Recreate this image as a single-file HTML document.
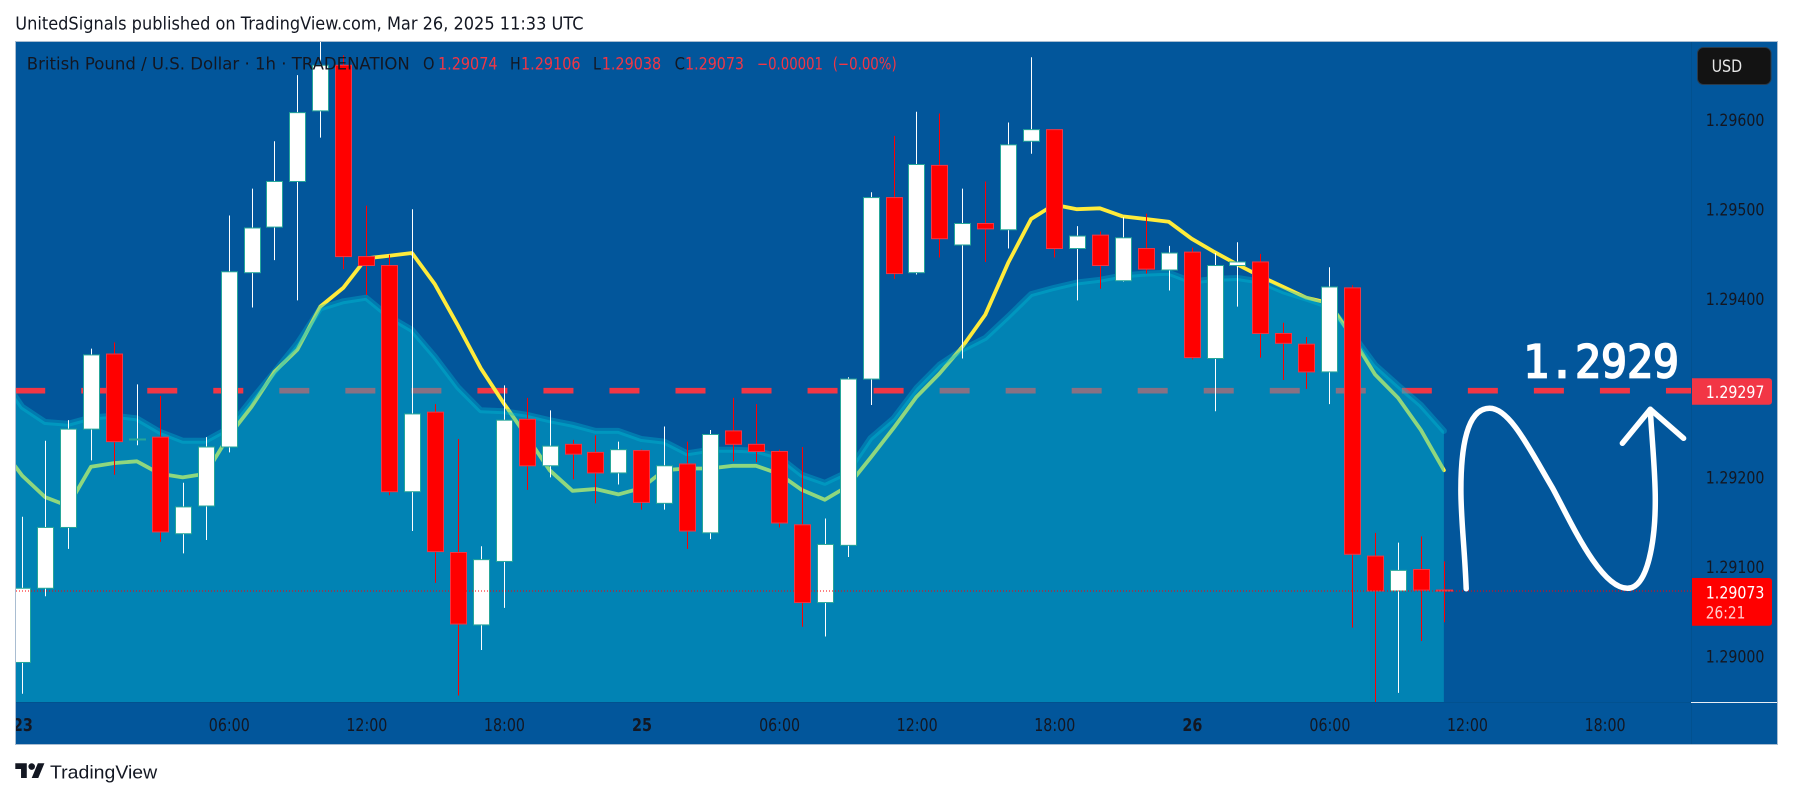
<!DOCTYPE html>
<html lang="en">
<head>
<meta charset="utf-8">
<title>GBP/USD 1h chart</title>
<style>
html,body{margin:0;padding:0;background:#fff;width:1793px;height:798px;overflow:hidden}
svg{display:block}
text{font-family:"DejaVu Sans","Liberation Sans",sans-serif}
</style>
</head>
<body>
<svg id="chart" width="1793" height="798" viewBox="0 0 1793 798" xmlns="http://www.w3.org/2000/svg">
  <defs>
    <clipPath id="plot-clip"><rect x="16" y="42" width="1675" height="660.7"/></clipPath>
    <clipPath id="chart-clip"><rect x="16" y="42" width="1761" height="702"/></clipPath>
  </defs>
  <rect x="0" y="0" width="1793" height="798" fill="#ffffff"/>
  <text x="15.3" y="29.5" font-size="17.5" fill="#131722" textLength="568.3" lengthAdjust="spacingAndGlyphs">UnitedSignals published on TradingView.com, Mar 26, 2025 11:33 UTC</text>
  <rect x="15.5" y="41.5" width="1762" height="703" fill="#02569b" stroke="#a9bdd1" stroke-width="1"/>
  <g id="under-lines" clip-path="url(#plot-clip)"></g>
  <g id="area" clip-path="url(#plot-clip)"></g>
  <g id="candles" clip-path="url(#plot-clip)"></g>
  <line id="last-line" x1="16" x2="1691" stroke="#ff0000" stroke-width="1" stroke-dasharray="1 2"/>
  <line x1="1691.5" x2="1691.5" y1="42" y2="744" stroke="#02518f" stroke-width="1"/>
  <line x1="16" x2="1691" y1="702.5" y2="702.5" stroke="#02518f" stroke-width="1"/>
  <line x1="1691" x2="1777" y1="702.5" y2="702.5" stroke="#e8eef5" stroke-width="1"/>
  <g id="price-axis"></g>
  <g id="time-axis" clip-path="url(#chart-clip)"></g>
  <text x="1523" y="377.5" font-size="45.5" fill="#ffffff" stroke="#ffffff" stroke-width="1.8" style='font-family:"DejaVu Sans Mono",monospace' textLength="156" lengthAdjust="spacingAndGlyphs">1.2929</text>
  <path fill="none" stroke="#ffffff" stroke-width="5.5" stroke-linecap="round" stroke-linejoin="round" d="M1466.2 588.7 C1464.8 550 1460.9 520 1460.9 490 C1460.9 450 1466 408.3 1489.6 408.3 C1510 408.3 1530 450 1552.7 488.3 C1570 520 1600 588.3 1627.4 588.3 C1648 588.3 1655.3 540 1655.3 500 C1655.3 470 1651.5 435 1650.3 409.3"/>
  <path fill="none" stroke="#ffffff" stroke-width="5.5" stroke-linecap="round" stroke-linejoin="round" d="M1622.4 443.3 L1650.3 409.3 L1683.6 438.3"/>
  <g font-size="16.5" fill="#131722">
    <text x="26.8" y="69.5" textLength="383" lengthAdjust="spacingAndGlyphs">British Pound / U.S. Dollar · 1h · TRADENATION</text>
    <text x="423" y="69.5" textLength="11.5" lengthAdjust="spacingAndGlyphs">O</text>
    <text x="438" y="69.5" fill="#f23645" textLength="59.5" lengthAdjust="spacingAndGlyphs">1.29074</text>
    <text x="510" y="69.5" textLength="10.7" lengthAdjust="spacingAndGlyphs">H</text>
    <text x="521" y="69.5" fill="#f23645" textLength="59.5" lengthAdjust="spacingAndGlyphs">1.29106</text>
    <text x="593" y="69.5" textLength="8" lengthAdjust="spacingAndGlyphs">L</text>
    <text x="601.7" y="69.5" fill="#f23645" textLength="59.5" lengthAdjust="spacingAndGlyphs">1.29038</text>
    <text x="674.6" y="69.5" textLength="10.4" lengthAdjust="spacingAndGlyphs">C</text>
    <text x="685" y="69.5" fill="#f23645" textLength="59" lengthAdjust="spacingAndGlyphs">1.29073</text>
    <text x="757" y="69.5" fill="#f23645" textLength="66" lengthAdjust="spacingAndGlyphs">−0.00001</text>
    <text x="832.7" y="69.5" fill="#f23645" textLength="64" lengthAdjust="spacingAndGlyphs">(−0.00%)</text>
  </g>
  <g>
    <rect x="1697.5" y="47.5" width="73.5" height="37" rx="6" fill="#131313" stroke="#2a3a4a" stroke-width="1"/>
    <text x="1711.6" y="72" font-size="16.5" fill="#e6e6e6" textLength="30.5" lengthAdjust="spacingAndGlyphs">USD</text>
  </g>
  <path d="M1692 378.3 H1769 a3 3 0 0 1 3 3 V401.7 a3 3 0 0 1 -3 3 H1692 Z" fill="#f23645"/>
  <text x="1705.8" y="398" font-size="17" fill="#ffffff" textLength="58.6" lengthAdjust="spacingAndGlyphs">1.29297</text>
  <path d="M1692 578 H1769 a3 3 0 0 1 3 3 V622.7 a3 3 0 0 1 -3 3 H1692 Z" fill="#ff0000"/>
  <text x="1705.8" y="598.3" font-size="17" fill="#ffffff" textLength="58.6" lengthAdjust="spacingAndGlyphs">1.29073</text>
  <text x="1705.8" y="618.7" font-size="17" fill="#ffcccc" textLength="39.5" lengthAdjust="spacingAndGlyphs">26:21</text>
  <g>
    <g transform="translate(15.3 760) scale(.82)" fill="#131722">
      <path d="M14 22H7V11H0V4h14v18zM28 22h-8l7.5-18h8L28 22z"/>
      <circle cx="20" cy="8" r="4"/>
    </g>
    <text x="50" y="778.3" font-size="18" fill="#131722" style='font-family:"Liberation Sans",sans-serif' textLength="107.2" lengthAdjust="spacingAndGlyphs">TradingView</text>
  </g>
</svg>
<script>
const opens = [1.28993,1.29076,1.29144,1.29254,1.29338,1.29242,1.29245,1.29137,1.29168,1.29234,1.29429,1.29480,1.29531,1.29610,1.29661,1.29447,1.29437,1.29184,1.29273,1.29116,1.29035,1.29106,1.29265,1.29213,1.29237,1.29228,1.29205,1.29230,1.29171,1.29215,1.29138,1.29252,1.29237,1.29229,1.29147,1.29060,1.29124,1.29310,1.29513,1.29429,1.29549,1.29460,1.29484,1.29477,1.29576,1.29589,1.29456,1.29471,1.29420,1.29456,1.29432,1.29452,1.29333,1.29437,1.29441,1.29361,1.29349,1.29318,1.29412,1.29112,1.29073,1.29097,1.29074];
const highs = [1.29156,1.29241,1.29264,1.29344,1.29351,1.29304,1.29291,1.29194,1.29245,1.29493,1.29523,1.29576,1.29650,1.29700,1.29672,1.29504,1.29449,1.29500,1.29282,1.29243,1.29123,1.29303,1.29289,1.29275,1.29242,1.29247,1.29240,1.29231,1.29257,1.29240,1.29253,1.29289,1.29282,1.29231,1.29234,1.29154,1.29312,1.29519,1.29582,1.29609,1.29607,1.29523,1.29531,1.29597,1.29670,1.29589,1.29481,1.29475,1.29491,1.29495,1.29459,1.29457,1.29451,1.29463,1.29450,1.29373,1.29357,1.29435,1.29415,1.29138,1.29127,1.29134,1.29106];
const lows = [1.28958,1.29067,1.29120,1.29219,1.29203,1.29236,1.29128,1.29115,1.29130,1.29228,1.29390,1.29443,1.29398,1.29580,1.29433,1.29404,1.29180,1.29140,1.29082,1.28956,1.29007,1.29054,1.29186,1.29200,1.29198,1.29171,1.29192,1.29164,1.29164,1.29120,1.29131,1.29218,1.29217,1.29144,1.29033,1.29022,1.29111,1.29281,1.29422,1.29427,1.29446,1.29333,1.29441,1.29456,1.29562,1.29446,1.29398,1.29411,1.29419,1.29428,1.29409,1.29332,1.29274,1.29391,1.29334,1.29309,1.29299,1.29282,1.29032,1.28948,1.28959,1.29017,1.29038];
const closes = [1.29076,1.29144,1.29254,1.29337,1.29240,1.29243,1.29139,1.29167,1.29234,1.29430,1.29479,1.29531,1.29608,1.29661,1.29447,1.29437,1.29184,1.29271,1.29117,1.29036,1.29108,1.29264,1.29213,1.29235,1.29226,1.29205,1.29231,1.29172,1.29213,1.29140,1.29248,1.29237,1.29229,1.29149,1.29060,1.29125,1.29310,1.29513,1.29428,1.29550,1.29467,1.29484,1.29478,1.29572,1.29589,1.29456,1.29470,1.29437,1.29468,1.29433,1.29451,1.29334,1.29437,1.29441,1.29361,1.29350,1.29318,1.29413,1.29114,1.29073,1.29096,1.29074,1.29073];
const fastMa = [1.29236,1.29202,1.29178,1.29168,1.29212,1.29216,1.29218,1.29204,1.29200,1.29204,1.29246,1.29279,1.29318,1.29343,1.29391,1.29412,1.29445,1.29448,1.29451,1.29416,1.29370,1.29322,1.29283,1.29246,1.29208,1.29185,1.29187,1.29181,1.29188,1.29208,1.29210,1.29210,1.29213,1.29213,1.29204,1.29186,1.29175,1.29190,1.29222,1.29255,1.29290,1.29316,1.29346,1.29382,1.29440,1.29489,1.29505,1.29500,1.29501,1.29492,1.29489,1.29486,1.29467,1.29452,1.29438,1.29425,1.29413,1.29401,1.29395,1.29357,1.29315,1.29289,1.29253,1.29208];
const slowMa = [1.29317,1.29279,1.29262,1.29260,1.29267,1.29269,1.29266,1.29251,1.29241,1.29241,1.29255,1.29287,1.29318,1.29350,1.29389,1.29397,1.29401,1.29380,1.29365,1.29335,1.29301,1.29275,1.29274,1.29270,1.29264,1.29259,1.29252,1.29252,1.29243,1.29240,1.29227,1.29231,1.29231,1.29230,1.29223,1.29203,1.29194,1.29206,1.29244,1.29266,1.29300,1.29326,1.29343,1.29356,1.29380,1.29405,1.29412,1.29418,1.29421,1.29426,1.29428,1.29429,1.29419,1.29422,1.29423,1.29419,1.29408,1.29400,1.29391,1.29361,1.29326,1.29303,1.29281,1.29252];
const priceTicks = [1.296,1.295,1.294,1.292,1.291,1.29];
const priceTickLabels = ['1.29600','1.29500','1.29400','1.29200','1.29100','1.29000'];
const timeTickBars = [0,9,15,21,27,33,39,45,51,57,63,69];
const timeTickLabels = ['23','06:00','12:00','18:00','25','06:00','12:00','18:00','26','06:00','12:00','18:00'];
const boldTimeTicks = ['23','25','26'];
const targetPrice = 1.29297;
const lastPrice = 1.29073;

const SVG_NS = 'http://www.w3.org/2000/svg';
function xScale(i){ return 22.2 + 22.93 * i; }
function yScale(p){ return 119.8 + (1.296 - p) * 89400; }
function make(tag, attrs, parent){
  const el = document.createElementNS(SVG_NS, tag);
  for (const k in attrs) el.setAttribute(k, attrs[k]);
  parent.appendChild(el);
  return el;
}
function polyPoints(series){
  return series.map(function(v, j){ return xScale(j - 1).toFixed(1) + ',' + yScale(v).toFixed(1); }).join(' ');
}

const under = document.getElementById('under-lines');
const area = document.getElementById('area');
const candleLayer = document.getElementById('candles');

// Target dashed line (sits beneath the translucent area)
const targetLine = make('line', {x1: 15.2, x2: 1691, y1: yScale(targetPrice), y2: yScale(targetPrice), stroke: '#f23645', 'stroke-width': 5.7, 'stroke-dasharray': '30 36.03'}, under);



// Fast moving average
const fastLine = make('polyline', {points: polyPoints(fastMa), fill: 'none', stroke: '#ffeb3b', 'stroke-width': 3.8, 'stroke-linejoin': 'round', 'stroke-linecap': 'round'}, under);



// Slow moving average area
const lastX = xScale(slowMa.length - 2);
const firstX = xScale(-1);
const areaPath = make('polygon', {points: polyPoints(slowMa) + ' ' + lastX + ',702.7 ' + firstX + ',702.7', fill: 'rgba(0,188,212,.44)', stroke: 'none'}, area);


const slowLine = make('polyline', {points: polyPoints(slowMa), fill: 'none', stroke: 'rgba(0,188,212,.35)', 'stroke-width': 6, 'stroke-linejoin': 'round', 'stroke-linecap': 'round'}, area);



// Candles
for (let i = 0; i < opens.length; i++) {
  const up = closes[i] >= opens[i];
  const cx = Math.round(xScale(i));
  const g = make('g', {}, candleLayer);
  
  
  const wick = make('line', {x1: cx + 0.5, x2: cx + 0.5, y1: yScale(highs[i]), y2: yScale(lows[i]), stroke: up ? '#ffffff' : '#ff0000', 'stroke-width': 1}, g);
  
  
  const top = yScale(Math.max(opens[i], closes[i]));
  const bottom = yScale(Math.min(opens[i], closes[i]));
  const body = make('rect', {x: cx - 7.5, y: top, width: 16, height: Math.max(bottom - top, 1), fill: up ? '#ffffff' : '#ff0000', stroke: up ? '#26a69a' : '#f23645', 'stroke-width': 1}, g);
  
  
}

// Last price dotted line
const lastLine = document.getElementById('last-line');
lastLine.setAttribute('y1', yScale(lastPrice));
lastLine.setAttribute('y2', yScale(lastPrice));

// Price axis
const priceAxis = document.getElementById('price-axis');
priceTicks.forEach(function(p, k){
  const t = make('text', {x: 1705.8, y: yScale(p) + 6.2, 'font-size': 17, fill: '#131722', textLength: 58.6, lengthAdjust: 'spacingAndGlyphs'}, priceAxis);
  
  
  t.textContent = priceTickLabels[k];
});

// Time axis
const timeAxis = document.getElementById('time-axis');
timeTickBars.forEach(function(b, k){
  const label = timeTickLabels[k];
  const bold = boldTimeTicks.indexOf(label) >= 0;
  const t = make('text', {x: xScale(b) + 0.7, y: 731, 'font-size': 17.5, fill: '#131722', 'text-anchor': 'middle', 'font-weight': bold ? 700 : 400, textLength: bold ? 20 : 41, lengthAdjust: 'spacingAndGlyphs'}, timeAxis);
  
  
  t.textContent = label;
});
</script>
</body>
</html>
